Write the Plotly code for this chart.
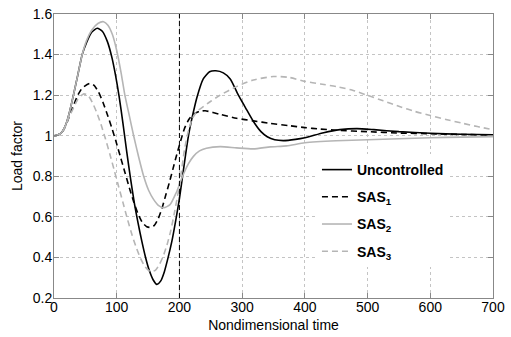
import plotly.graph_objects as go

# ---- data ----
t_unc = [0, 5, 10, 15, 20, 25, 31, 38, 45, 52, 60, 69, 77, 85, 92, 98, 104, 110, 116, 122, 128, 134,
         140, 146, 152, 158, 164, 170, 176, 182, 188, 194, 200, 205, 210, 215, 221, 228, 238, 248,
         258, 270, 281, 294, 305, 318, 330, 340, 352, 366, 385, 400, 430, 456, 483, 510, 550, 600, 650, 700]
y_unc = [1.0, 1.002, 1.01, 1.028, 1.065, 1.12, 1.2, 1.3, 1.4, 1.46, 1.51, 1.53, 1.515, 1.465, 1.39, 1.3,
         1.19, 1.06, 0.92, 0.79, 0.67, 0.57, 0.48, 0.4, 0.335, 0.29, 0.267, 0.283, 0.33, 0.4, 0.48, 0.58,
         0.69, 0.8, 0.91, 1.01, 1.1, 1.19, 1.28, 1.315, 1.32, 1.31, 1.28, 1.2, 1.14, 1.07, 1.02, 0.995,
         0.98, 0.976, 0.982, 0.99, 1.015, 1.03, 1.035, 1.03, 1.02, 1.012, 1.007, 1.005]

t_sas1 = [0, 5, 10, 15, 20, 25, 30, 38, 45, 57, 64, 71, 78, 85, 92, 99, 106, 113, 120, 127, 134, 141,
          148, 153, 160, 166, 172, 178, 184, 190, 196, 202, 208, 215, 222, 232, 241, 265, 291, 318, 345,
          374, 400, 424, 450, 500, 552, 600, 650, 700]
y_sas1 = [1.0, 1.002, 1.01, 1.028, 1.06, 1.1, 1.14, 1.2, 1.235, 1.258, 1.248, 1.215, 1.165, 1.105, 1.04,
          0.97, 0.895, 0.82, 0.745, 0.675, 0.615, 0.572, 0.551, 0.548, 0.558, 0.59, 0.64, 0.705, 0.77,
          0.84, 0.91, 0.975, 1.035, 1.08, 1.105, 1.12, 1.123, 1.105, 1.086, 1.073, 1.061, 1.05, 1.04,
          1.033, 1.027, 1.02, 1.013, 1.01, 1.006, 1.004]

t_sas2 = [0, 5, 10, 15, 20, 25, 31, 38, 45, 52, 60, 70, 79, 86, 93, 100, 107, 113, 120, 127, 135, 143,
          151, 159, 167, 175, 185, 195, 205, 214, 222, 232, 243, 265, 291, 318, 345, 371, 400, 450, 500,
          550, 600, 650, 700]
y_sas2 = [1.0, 1.002, 1.01, 1.028, 1.065, 1.12, 1.2, 1.3, 1.4, 1.47, 1.52, 1.553, 1.562, 1.545, 1.5,
          1.42, 1.31, 1.2, 1.1, 1.0, 0.895, 0.8, 0.73, 0.685, 0.655, 0.645, 0.66, 0.72, 0.8, 0.86, 0.897,
          0.925, 0.938, 0.946, 0.94, 0.935, 0.945, 0.95, 0.965, 0.975, 0.98, 0.985, 0.99, 0.993, 0.995]

t_sas3 = [0, 5, 10, 15, 20, 25, 30, 38, 47, 54, 61, 68, 75, 82, 89, 96, 103, 110, 117, 124, 131, 138,
          145, 152, 156, 162, 168, 174, 180, 186, 192, 198, 203, 208, 214, 220, 228, 238, 250, 265, 291,
          318, 350, 374, 400, 425, 451, 475, 499, 525, 552, 575, 600, 625, 652, 675, 700]
y_sas3 = [1.0, 1.002, 1.01, 1.028, 1.06, 1.1, 1.13, 1.18, 1.206, 1.2, 1.165, 1.115, 1.055, 0.985, 0.91,
          0.83, 0.75, 0.67, 0.59, 0.515, 0.45, 0.395, 0.355, 0.333, 0.33, 0.338, 0.365, 0.405, 0.46,
          0.53, 0.62, 0.72, 0.82, 0.93, 1.02, 1.08, 1.12, 1.143, 1.17, 1.2, 1.242, 1.275, 1.292, 1.288,
          1.268, 1.255, 1.242, 1.225, 1.2, 1.172, 1.143, 1.12, 1.1, 1.08, 1.061, 1.045, 1.03]

x_ticks = [0, 100, 200, 300, 400, 500, 600, 700]
y_ticks = [0.2, 0.4, 0.6, 0.8, 1.0, 1.2, 1.4, 1.6]
y_ticktext = ["0.2", "0.4", "0.6", "0.8", "1", "1.2", "1.4", "1.6"]
marker_time = 200

names = ["<b>Uncontrolled</b>", "<b>SAS<sub>1</sub></b>", "<b>SAS<sub>2</sub></b>", "<b>SAS<sub>3</sub></b>"]

FONT = "Liberation Sans, Arial, Helvetica, sans-serif"
GRAY = "#b5b5b5"

fig = go.Figure()
series = [
    (t_unc, y_unc, "black", "solid"),
    (t_sas1, y_sas1, "black", "6px,4px"),
    (t_sas2, y_sas2, GRAY, "solid"),
    (t_sas3, y_sas3, GRAY, "6px,4px"),
]
for i, (tx, ty, col, dash) in enumerate(series):
    fig.add_trace(go.Scatter(
        x=tx, y=ty, mode="lines", name=names[i], legendgroup=f"g{i}",
        line=dict(color=col, width=1.6, dash=dash, shape="spline", smoothing=0.6),
    ))

fig.add_shape(type="line", xref="x", yref="paper", x0=marker_time, x1=marker_time, y0=0, y1=1,
              line=dict(color="black", width=1, dash="5px,3px"), layer="above")

axis_common = dict(
    showline=True, linecolor="#888888", linewidth=1, mirror="ticks",
    ticks="inside", ticklen=5, tickcolor="#888888",
    showgrid=True, gridcolor="#c4c4c4", griddash="dot", gridwidth=1,
    zeroline=False, automargin=False, tickfont=dict(family=FONT, size=14, color="black"),
)

fig.update_layout(
    width=511, height=337, autosize=False,
    margin=dict(l=54, r=18, t=14, b=39),
    paper_bgcolor="white", plot_bgcolor="white",
    font=dict(family=FONT, size=14, color="black"),
    showlegend=True,
    legend=dict(
        x=0.599, y=0.507, xanchor="left", yanchor="top",
        bgcolor="white", borderwidth=0,
        font=dict(family=FONT, size=14, color="black"),
        tracegroupgap=6, itemwidth=30,
    ),
    xaxis=dict(range=[0, 700], tickvals=x_ticks, ticktext=[str(v) for v in x_ticks],
               title=dict(text="Nondimensional time", font=dict(family=FONT, size=14), standoff=6),
               ticklabelstandoff=-4,
               **axis_common),
    yaxis=dict(range=[0.2, 1.6], tickvals=y_ticks, ticktext=y_ticktext,
               title=dict(text="Load factor", font=dict(family=FONT, size=14), standoff=6),
               ticklabelstandoff=-2,
               **axis_common),
)

fig.write_html(
    "out.html",
    config={"displayModeBar": False},
    post_script="document.body.style.margin='0';document.body.style.overflow='hidden';",
)
